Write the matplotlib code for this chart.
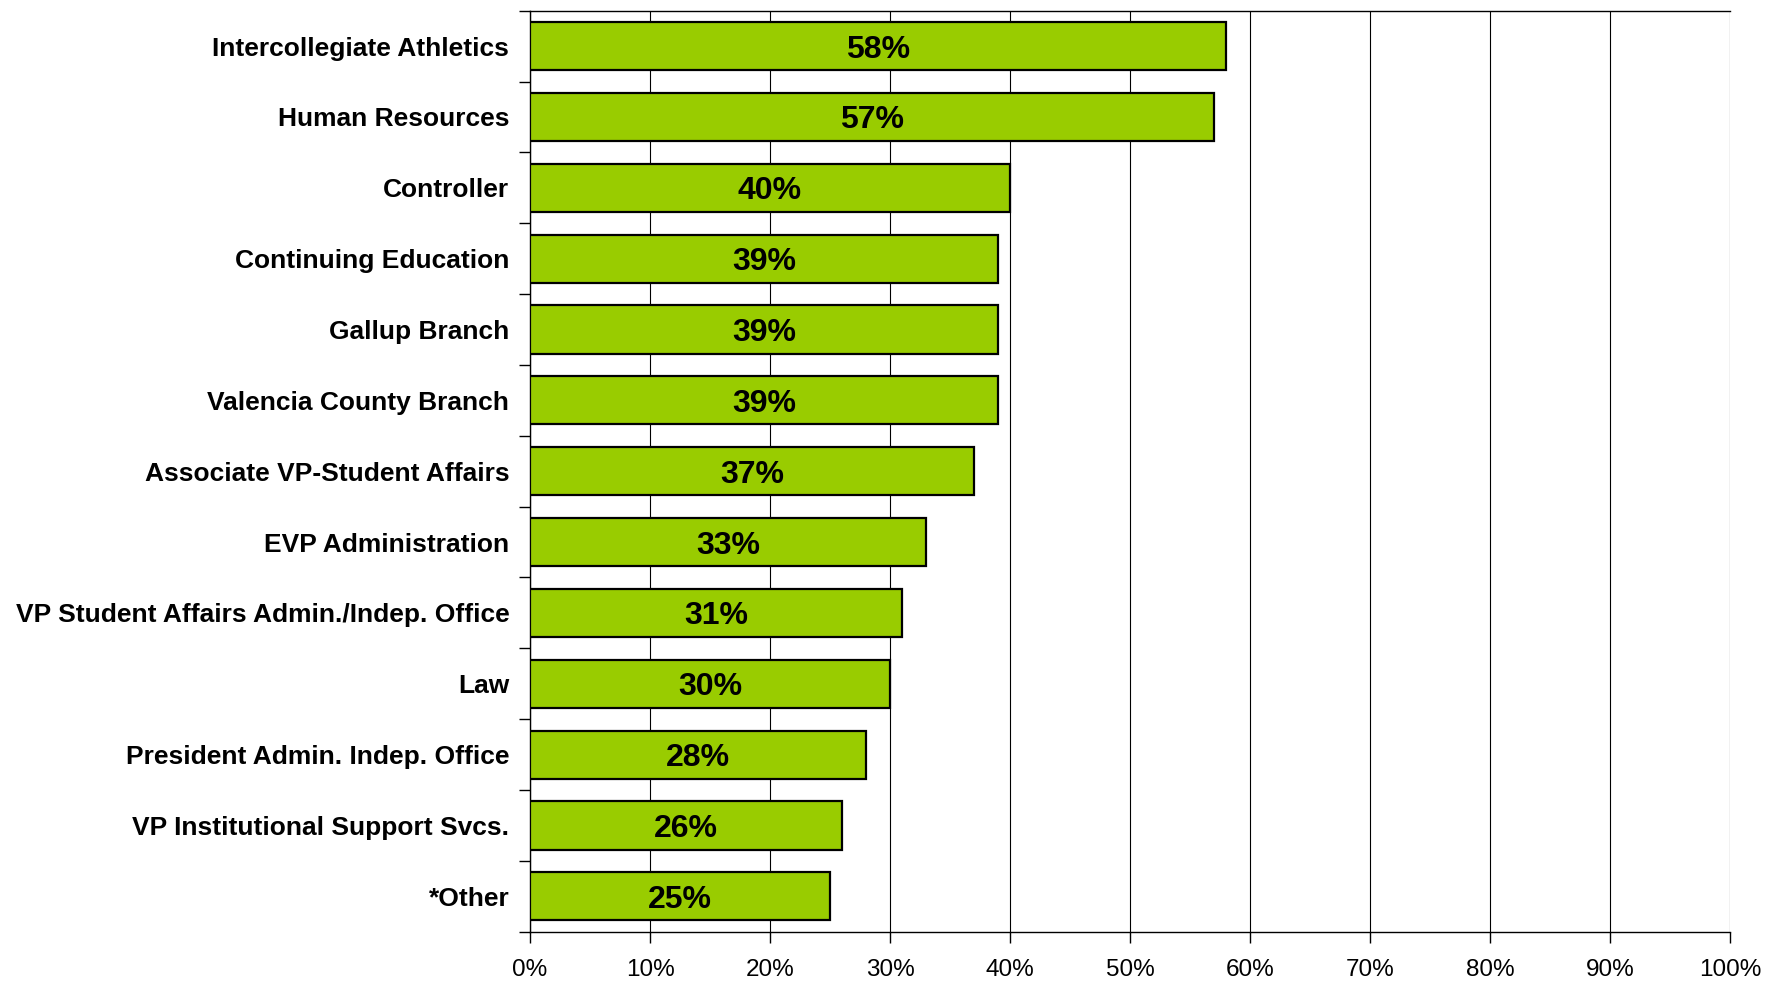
import numpy as np
import matplotlib.pyplot as plt
from matplotlib.ticker import FixedLocator, FuncFormatter

plt.rcParams['font.family'] = ['Liberation Sans', 'DejaVu Sans']

# data (top to bottom as shown)
departments = [
    "Intercollegiate Athletics",
    "Human Resources",
    "Controller",
    "Continuing Education",
    "Gallup Branch",
    "Valencia County Branch",
    "Associate VP-Student Affairs",
    "EVP Administration",
    "VP Student Affairs Admin./Indep. Office",
    "Law",
    "President Admin. Indep. Office",
    "VP Institutional Support Svcs.",
    "*Other",
]
percents = [58, 57, 40, 39, 39, 39, 37, 33, 31, 30, 28, 26, 25]
x_ticks = list(range(0, 101, 10))

fig = plt.figure(figsize=(17.67, 9.82), dpi=100)
ax = fig.add_axes([0.3, 0.0512, 0.679, 0.9379])

n = len(departments)
ypos = np.arange(n)

ax.barh(ypos, percents, height=0.68, color="#99CC00", edgecolor="black",
        linewidth=1.6, zorder=3)

for y, v in zip(ypos, percents):
    ax.text(v / 2, y, "%d%%" % v, ha="center", va="center_baseline",
            fontsize=23, fontweight="bold", color="black", zorder=4)

ax.set_xlim(0, 100)
ax.set_ylim(n - 0.5, -0.5)

ax.set_xticks(x_ticks)
ax.xaxis.set_major_formatter(FuncFormatter(lambda v, p: "%d%%" % v))
ax.tick_params(axis="x", direction="out", length=8, width=1, pad=12,
               labelsize=17.5)

ax.set_yticks(ypos)
ax.set_yticklabels(departments, fontsize=19, fontweight="bold")
ax.yaxis.set_minor_locator(FixedLocator(np.arange(-0.5, n, 1.0)))
ax.tick_params(axis="y", which="major", length=0, pad=15)
ax.tick_params(axis="y", which="minor", direction="out", length=8, width=1)

ax.grid(axis="x", color="black", linewidth=0.8, zorder=0)
ax.set_axisbelow(True)

for s in ax.spines.values():
    s.set_color("black")
    s.set_linewidth(1)
ax.spines["right"].set_visible(False)

fig.savefig("out.png", dpi=100)
